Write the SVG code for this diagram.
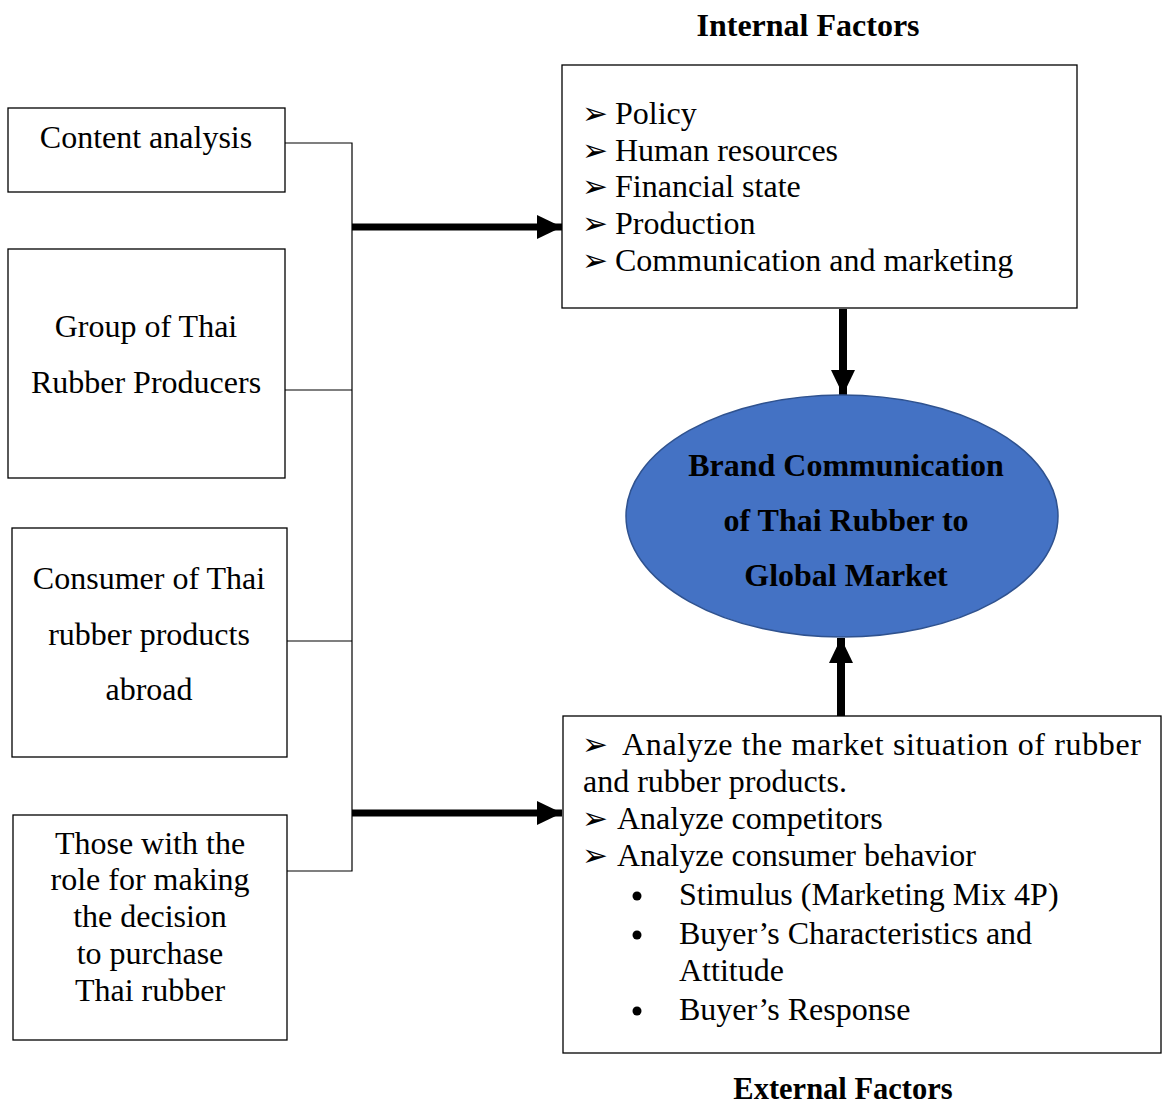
<svg xmlns="http://www.w3.org/2000/svg" width="1163" height="1106" viewBox="0 0 1163 1106">
  <style>
    .box { fill: #ffffff; stroke: #000000; stroke-width: 1.3; }
    .t { font-family: "Liberation Serif", "Times New Roman", serif; font-size: 32px; fill: #000000; }
    .c { text-anchor: middle; }
    .b { font-weight: bold; }
    .sym { font-family: "DejaVu Sans", sans-serif; font-size: 31px; fill: #000000; }
    .thin { fill: none; stroke: #000000; stroke-width: 1.2; }
    .thick { fill: none; stroke: #000000; stroke-width: 7; }
    .vthick { fill: none; stroke: #000000; stroke-width: 8; }
  </style>
  <defs>
    <marker id="head" markerUnits="userSpaceOnUse" markerWidth="26" markerHeight="24" refX="25" refY="12" orient="auto">
      <path d="M0,0 L25,12 L0,24 Z" fill="#000000"/>
    </marker>
  </defs>

  <!-- Titles -->
  <text class="t b c" x="808" y="36">Internal Factors</text>
  <text class="t b c" x="843" y="1099" style="font-size:30.5px">External Factors</text>

  <!-- Connectors -->
  <g id="connectors">
    <polyline class="thin" points="285,143 352,143 352,871 287,871"/>
    <line class="thin" x1="285" y1="390" x2="352" y2="390"/>
    <line class="thin" x1="287" y1="641" x2="352" y2="641"/>
    <line class="thick" x1="352" y1="227" x2="562" y2="227" marker-end="url(#head)"/>
    <line class="thick" x1="352" y1="813" x2="562" y2="813" marker-end="url(#head)"/>
    <line class="vthick" x1="843" y1="309" x2="843" y2="395" marker-end="url(#head)"/>
    <line class="vthick" x1="841" y1="716" x2="841" y2="638" marker-end="url(#head)"/>
  </g>

  <!-- Sources -->
  <g id="content-analysis">
    <rect class="box" x="8" y="108" width="277" height="84"/>
    <text class="t c" x="146" y="148">Content analysis</text>
  </g>
  <g id="producers">
    <rect class="box" x="8" y="249" width="277" height="229"/>
    <text class="t c" x="146" y="337">Group of Thai</text>
    <text class="t c" x="146" y="393">Rubber Producers</text>
  </g>
  <g id="consumers">
    <rect class="box" x="12" y="528" width="275" height="229"/>
    <text class="t c" x="149" y="589">Consumer of Thai</text>
    <text class="t c" x="149" y="645">rubber products</text>
    <text class="t c" x="149" y="700">abroad</text>
  </g>
  <g id="decision-makers">
    <rect class="box" x="13" y="815" width="274" height="225"/>
    <text class="t c" x="150" y="854">Those with the</text>
    <text class="t c" x="150" y="890">role for making</text>
    <text class="t c" x="150" y="927">the decision</text>
    <text class="t c" x="150" y="964">to purchase</text>
    <text class="t c" x="150" y="1001">Thai rubber</text>
  </g>

  <!-- Internal factors -->
  <g id="internal">
    <rect class="box" x="562" y="65" width="515" height="243"/>
    <text class="sym" x="582" y="124">➢</text>
    <text class="t" x="615" y="124">Policy</text>
    <text class="sym" x="582" y="161">➢</text>
    <text class="t" x="615" y="161">Human resources</text>
    <text class="sym" x="582" y="197">➢</text>
    <text class="t" x="615" y="197">Financial state</text>
    <text class="sym" x="582" y="234">➢</text>
    <text class="t" x="615" y="234">Production</text>
    <text class="sym" x="582" y="271">➢</text>
    <text class="t" x="615" y="271">Communication and marketing</text>
  </g>

  <!-- Central concept -->
  <g id="brand">
    <ellipse cx="842" cy="516" rx="216" ry="121" fill="#4472C4" stroke="#2F528F" stroke-width="1.5"/>
    <text class="t b c" x="846" y="476">Brand Communication</text>
    <text class="t b c" x="846" y="531">of Thai Rubber to</text>
    <text class="t b c" x="846" y="586">Global Market</text>
  </g>

  <!-- External factors -->
  <g id="external">
    <rect class="box" x="563" y="716" width="598" height="337"/>
    <text class="sym" x="582" y="755">➢</text>
    <text class="t" x="622" y="755" textLength="519" lengthAdjust="spacing">Analyze the market situation of rubber</text>
    <text class="t" x="583" y="792">and rubber products.</text>
    <text class="sym" x="582" y="829">➢</text>
    <text class="t" x="617" y="829">Analyze competitors</text>
    <text class="sym" x="582" y="866">➢</text>
    <text class="t" x="617" y="866">Analyze consumer behavior</text>
    <circle cx="637" cy="896" r="4.5" fill="#000000"/>
    <text class="t" x="679" y="905">Stimulus (Marketing Mix 4P)</text>
    <circle cx="637" cy="935" r="4.5" fill="#000000"/>
    <text class="t" x="679" y="944">Buyer’s Characteristics and</text>
    <text class="t" x="679" y="981">Attitude</text>
    <circle cx="637" cy="1011" r="4.5" fill="#000000"/>
    <text class="t" x="679" y="1020">Buyer’s Response</text>
  </g>
</svg>
